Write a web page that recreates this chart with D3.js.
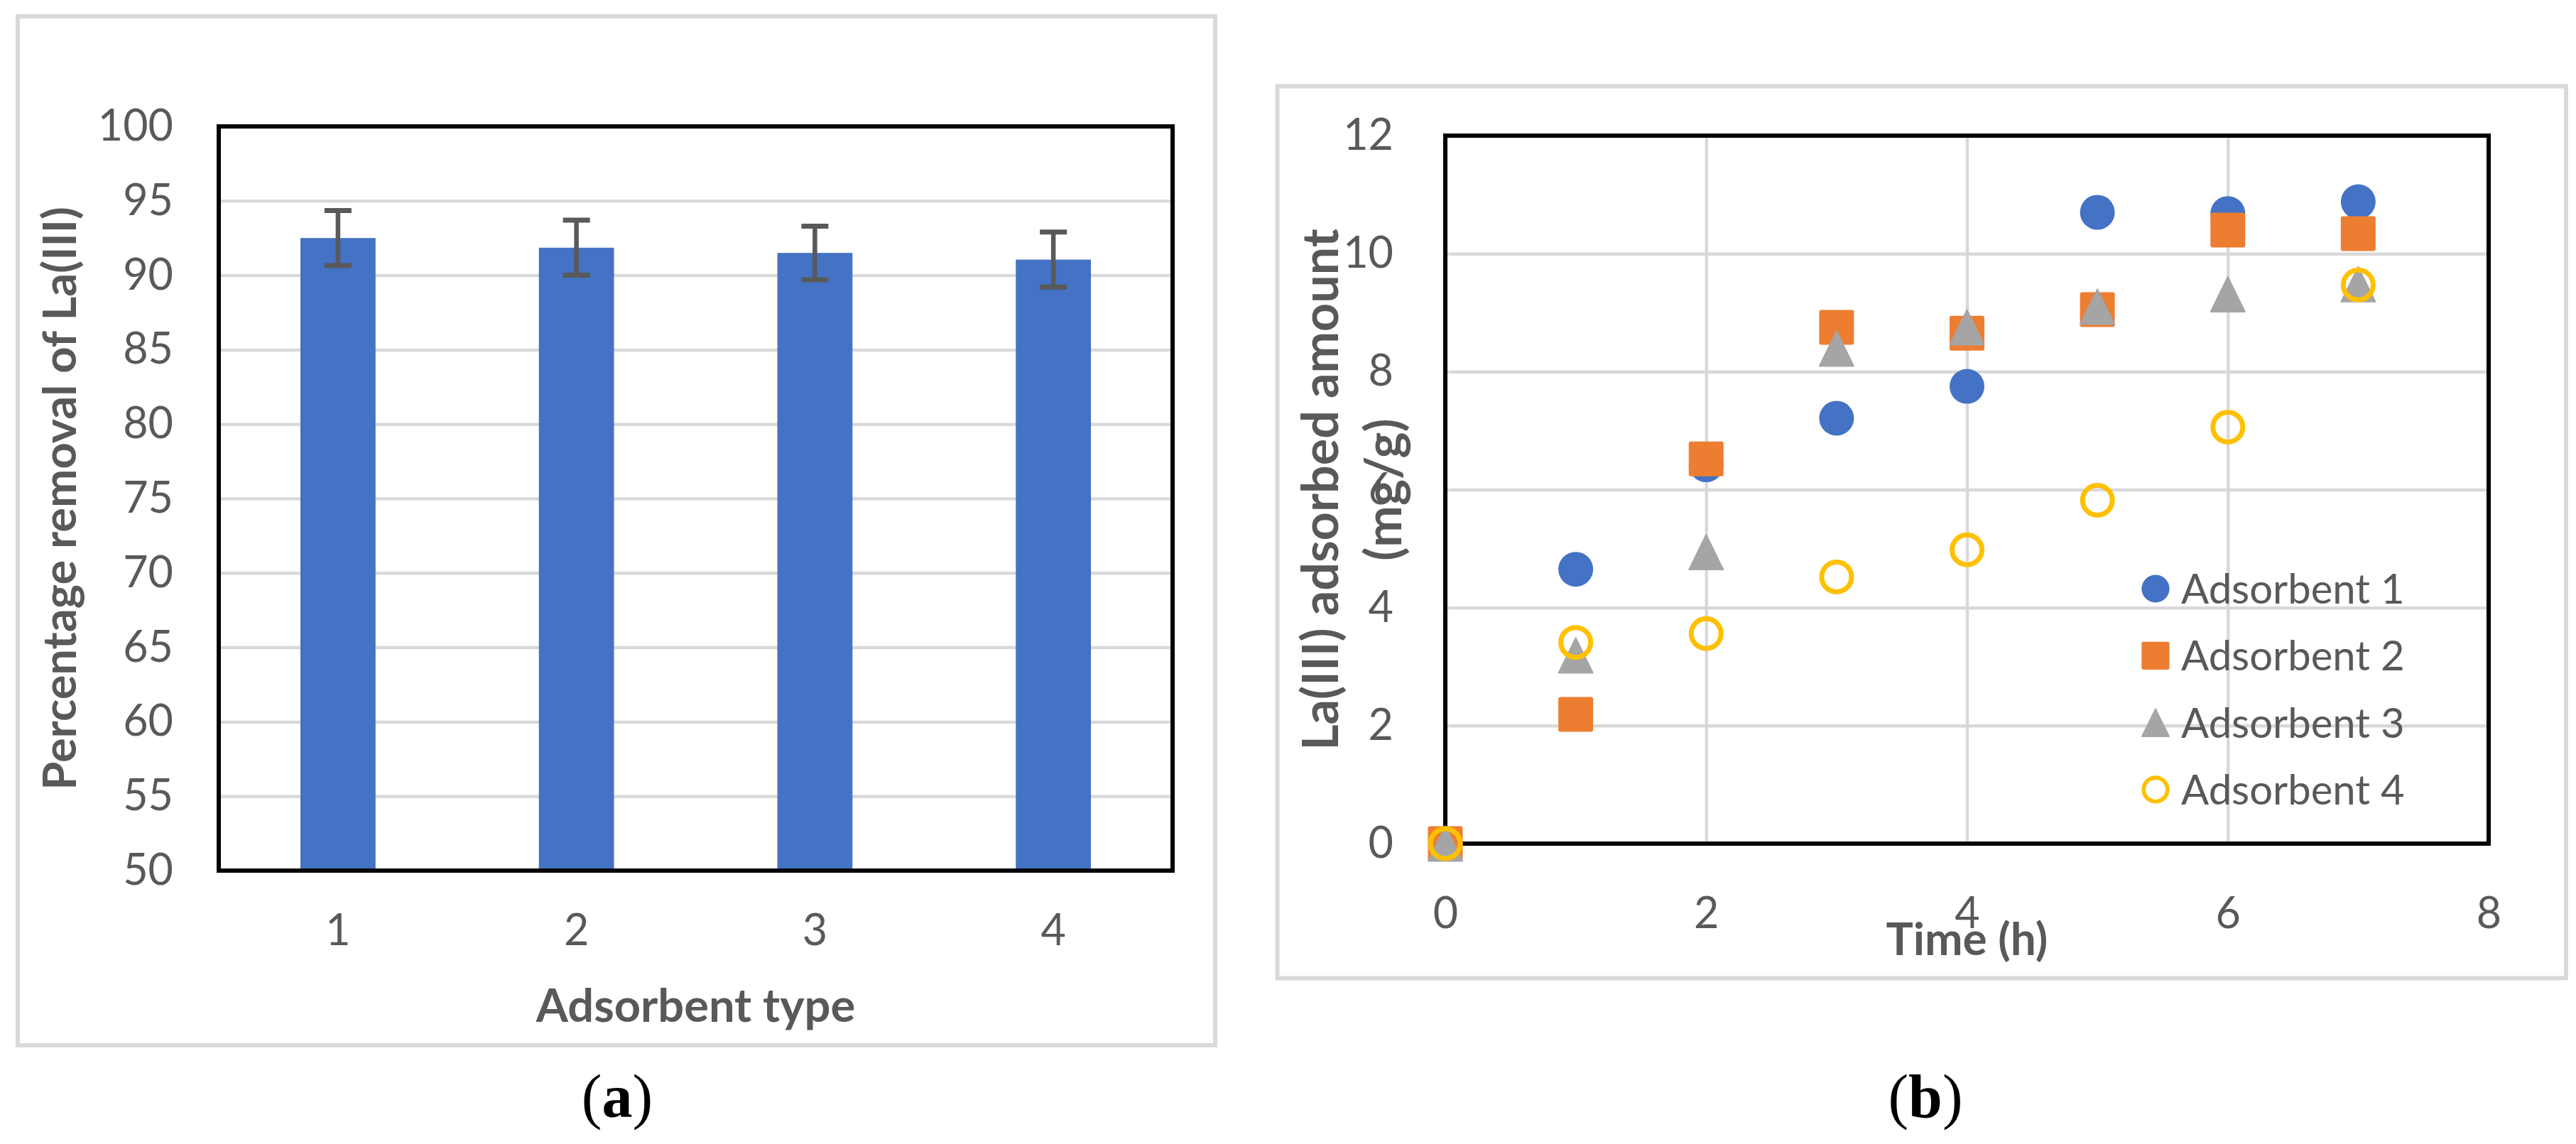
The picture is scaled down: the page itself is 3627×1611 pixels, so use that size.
<!DOCTYPE html>
<html>
<head>
<meta charset="utf-8">
<script src="https://cdn.jsdelivr.net/npm/d3@7"></script>
<style>
    body { margin: 0; background: #fff; }
    text { font-family: Lato, "Open Sans", sans-serif; }
</style>
</head>
<body>
<svg id="chart" width="3627" height="1611"></svg>
<script>
// ---- data: panel (a)
var adsorbentTypes = ["1", "2", "3", "4"];
var removalPct = [92.5, 91.85, 91.5, 91.05];
var removalErr = [1.85, 1.85, 1.8, 1.85];
var removalTicks = [50, 55, 60, 65, 70, 75, 80, 85, 90, 95, 100];

// ---- data: panel (b)
var timeHours = [0, 1, 2, 3, 4, 5, 6, 7];
var adsorbent1 = [0, 4.65, 6.42, 7.21, 7.75, 10.70, 10.68, 10.88];
var adsorbent2 = [0, 2.19, 6.52, 8.75, 8.65, 9.05, 10.40, 10.34];
var adsorbent3 = [0, 3.19, 4.94, 8.39, 8.75, 9.10, 9.31, 9.48];
var adsorbent4 = [0, 3.41, 3.56, 4.52, 4.98, 5.82, 7.06, 9.47];
var seriesNames = ["Adsorbent 1", "Adsorbent 2", "Adsorbent 3", "Adsorbent 4"];
var timeTicks = [0, 2, 4, 6, 8];
var amountTicks = [0, 2, 4, 6, 8, 10, 12];

var textColor = "#595959";
var gridColor = "#d9d9d9";

var svg = d3.select("#chart");
svg.append("rect").attr("width", 3627).attr("height", 1611).attr("fill", "#fff");

function styleAxisText(g, size) {
    g.select(".domain").remove();
    g.selectAll("text")
        .attr("fill", textColor)
        .style("font-size", size + "px");
}

function gridStyle(g) {
    g.select(".domain").remove();
    g.selectAll("line").attr("stroke", gridColor).attr("stroke-width", 4.5);
}

// =================== panel (a) ===================
var a = { left: 308, right: 1651, top: 178, bottom: 1226 };

svg.append("rect")
    .attr("x", 25).attr("y", 23).attr("width", 1686).attr("height", 1449)
    .attr("fill", "none").attr("stroke", gridColor).attr("stroke-width", 6);

var xA = d3.scaleBand()
    .domain(adsorbentTypes)
    .range([a.left, a.right])
    .paddingInner(0.685)
    .paddingOuter(0.3425);

var yA = d3.scaleLinear().domain([50, 100]).range([a.bottom, a.top]);

var gA = svg.append("g");

gA.append("g")
    .attr("transform", "translate(" + a.left + ",0)")
    .call(d3.axisLeft(yA)
        .tickValues(removalTicks.slice(1, -1))
        .tickSize(-(a.right - a.left))
        .tickFormat(""))
    .call(gridStyle);

var barData = adsorbentTypes.map(function (t, i) {
    return { type: t, value: removalPct[i], err: removalErr[i] };
});

gA.selectAll("rect.bar")
    .data(barData)
    .enter()
    .append("rect")
    .attr("class", "bar")
    .attr("x", function (d) { return xA(d.type); })
    .attr("width", xA.bandwidth())
    .attr("y", function (d) { return yA(d.value); })
    .attr("height", function (d) { return yA(50) - yA(d.value); })
    .attr("fill", "#4472c4");

// error bars
var errG = gA.selectAll("g.err")
    .data(barData)
    .enter()
    .append("g")
    .attr("class", "err")
    .attr("stroke", "#595959");

errG.append("line")
    .attr("x1", function (d) { return xA(d.type) + xA.bandwidth() / 2; })
    .attr("x2", function (d) { return xA(d.type) + xA.bandwidth() / 2; })
    .attr("y1", function (d) { return yA(d.value + d.err); })
    .attr("y2", function (d) { return yA(d.value - d.err); })
    .attr("stroke-width", 6.5);

[1, -1].forEach(function (s) {
    errG.append("line")
        .attr("x1", function (d) { return xA(d.type) + xA.bandwidth() / 2 - 19; })
        .attr("x2", function (d) { return xA(d.type) + xA.bandwidth() / 2 + 19; })
        .attr("y1", function (d) { return yA(d.value + s * d.err); })
        .attr("y2", function (d) { return yA(d.value + s * d.err); })
        .attr("stroke-width", 7);
});

gA.append("rect")
    .attr("x", a.left).attr("y", a.top)
    .attr("width", a.right - a.left).attr("height", a.bottom - a.top)
    .attr("fill", "none").attr("stroke", "#000").attr("stroke-width", 6);

gA.append("g")
    .attr("transform", "translate(" + a.left + ",0)")
    .call(d3.axisLeft(yA).tickValues(removalTicks).tickSize(0).tickPadding(64))
    .call(styleAxisText, 61);

gA.append("g")
    .attr("transform", "translate(0," + a.bottom + ")")
    .call(d3.axisBottom(xA).tickSize(0).tickPadding(62))
    .call(styleAxisText, 61);

gA.append("text")
    .attr("x", (a.left + a.right) / 2).attr("y", 1439)
    .attr("text-anchor", "middle")
    .attr("fill", textColor)
    .style("font-size", "65px").style("font-weight", "bold")
    .text("Adsorbent type");

gA.append("text")
    .attr("transform", "translate(107," + (a.top + a.bottom) / 2 + ") rotate(-90)")
    .attr("text-anchor", "middle")
    .attr("fill", textColor)
    .style("font-size", "65px").style("font-weight", "bold")
    .text("Percentage removal of La(III)");

// =================== panel (b) ===================
var b = { left: 2035, right: 3504, top: 191, bottom: 1188 };

svg.append("rect")
    .attr("x", 1798.5).attr("y", 121.5).attr("width", 1814.5).attr("height", 1256)
    .attr("fill", "none").attr("stroke", gridColor).attr("stroke-width", 6);

var xB = d3.scaleLinear().domain([0, 8]).range([b.left, b.right]);
var yB = d3.scaleLinear().domain([0, 12]).range([b.bottom, b.top]);

var gB = svg.append("g");

gB.append("g")
    .attr("transform", "translate(" + b.left + ",0)")
    .call(d3.axisLeft(yB)
        .tickValues(amountTicks.slice(1, -1))
        .tickSize(-(b.right - b.left))
        .tickFormat(""))
    .call(gridStyle);

gB.append("g")
    .attr("transform", "translate(0," + b.bottom + ")")
    .call(d3.axisBottom(xB)
        .tickValues(timeTicks.slice(1, -1))
        .tickSize(-(b.bottom - b.top))
        .tickFormat(""))
    .call(gridStyle);

gB.append("rect")
    .attr("x", b.left).attr("y", b.top)
    .attr("width", b.right - b.left).attr("height", b.bottom - b.top)
    .attr("fill", "none").attr("stroke", "#000").attr("stroke-width", 6);

gB.append("g")
    .attr("transform", "translate(" + b.left + ",0)")
    .call(d3.axisLeft(yB).tickValues(amountTicks).tickSize(0).tickPadding(73))
    .call(styleAxisText, 61);

gB.append("g")
    .attr("transform", "translate(0," + b.bottom + ")")
    .call(d3.axisBottom(xB).tickValues(timeTicks).tickSize(0).tickPadding(76))
    .call(styleAxisText, 61);

// marker drawing, scale k (1 = plot size)
function drawMarker(sel, kind, color, k) {
    var r = 24.5 * k;
    if (kind === "circle") {
        sel.append("circle").attr("r", r).attr("fill", color);
    } else if (kind === "square") {
        sel.append("rect")
            .attr("x", -r).attr("y", -r).attr("width", 2 * r).attr("height", 2 * r)
            .attr("rx", 3 * k).attr("fill", color);
    } else if (kind === "triangle") {
        sel.append("path")
            .attr("d", "M0," + (-r) + "L" + (r * 0.98) + "," + r + "L" + (-r * 0.98) + "," + r + "Z")
            .attr("fill", color)
            .attr("stroke", color).attr("stroke-width", 2 * k).attr("stroke-linejoin", "round");
    } else {
        sel.append("circle").attr("r", r - 3.5 * k)
            .attr("fill", "none").attr("stroke", color).attr("stroke-width", 7 * k);
    }
}

var series = [
    { name: seriesNames[0], values: adsorbent1, kind: "circle", color: "#4472c4" },
    { name: seriesNames[1], values: adsorbent2, kind: "square", color: "#ed7d31" },
    { name: seriesNames[2], values: adsorbent3, kind: "triangle", color: "#a5a5a5" },
    { name: seriesNames[3], values: adsorbent4, kind: "ring", color: "#ffc000" }
];

series.forEach(function (s) {
    var pts = gB.append("g").selectAll("g")
        .data(timeHours.map(function (t, i) { return [t, s.values[i]]; }))
        .enter()
        .append("g")
        .attr("transform", function (d) { return "translate(" + xB(d[0]) + "," + yB(d[1]) + ")"; });
    drawMarker(pts, s.kind, s.color, 1);
});

// legend
var legend = gB.append("g").attr("transform", "translate(3035,829)");
series.forEach(function (s, i) {
    var item = legend.append("g").attr("transform", "translate(0," + (i * 94.3) + ")");
    drawMarker(item, s.kind, s.color, 0.8);
    item.append("text")
        .attr("x", 36).attr("y", 21)
        .attr("fill", textColor)
        .style("font-size", "58px")
        .text(s.name);
});

gB.append("text")
    .attr("x", (b.left + b.right) / 2).attr("y", 1345)
    .attr("text-anchor", "middle")
    .attr("fill", textColor)
    .style("font-size", "64px").style("font-weight", "bold")
    .text("Time (h)");

var yTitle = gB.append("text")
    .attr("transform", "translate(0," + (b.top + b.bottom) / 2 + ") rotate(-90)")
    .attr("text-anchor", "middle")
    .attr("fill", textColor)
    .style("font-size", "70px").style("font-weight", "bold");
yTitle.append("tspan").attr("x", 0).attr("y", 1884).text("La(III) adsorbed amount");
yTitle.append("tspan").attr("x", 0).attr("y", 1973).text("(mg/g)");

// panel captions
[["a", 869], ["b", 2711]].forEach(function (c) {
    var t = svg.append("text")
        .attr("x", c[1]).attr("y", 1573)
        .attr("text-anchor", "middle")
        .attr("fill", "#000")
        .style("font-family", "'Liberation Serif', 'Times New Roman', serif")
        .style("font-size", "86px");
    t.append("tspan").text("(");
    t.append("tspan").style("font-weight", "bold").text(c[0]);
    t.append("tspan").text(")");
});
</script>
</body>
</html>
